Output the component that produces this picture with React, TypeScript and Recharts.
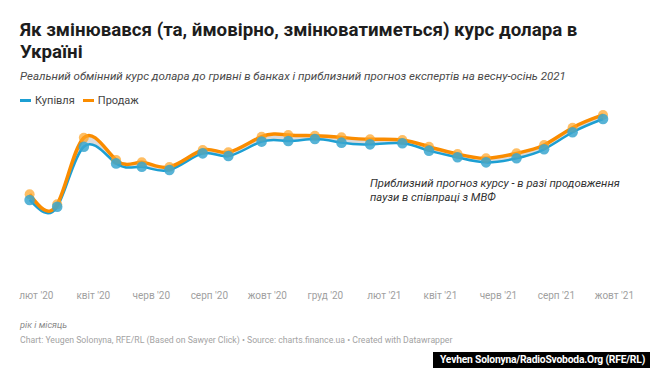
import React from 'react';
import { ComposedChart, Line, Area, XAxis, YAxis } from 'recharts';

// Observation dates (one reading per month)
const dates = [
  '2020-01-25', '2020-02-23', '2020-03-22', '2020-04-25', '2020-05-22', '2020-06-20',
  '2020-07-25', '2020-08-21', '2020-09-25', '2020-10-23', '2020-11-20', '2020-12-18',
  '2021-01-17', '2021-02-20', '2021-03-20', '2021-04-19', '2021-05-19', '2021-06-20',
  '2021-07-19', '2021-08-18', '2021-09-19',
];

// Bank buying rate, UAH per USD
const buyRates = [
  24.71, 24.31, 27.84, 26.86, 26.66, 26.47, 27.45, 27.29, 28.14, 28.18, 28.29, 28.08,
  27.98, 28.04, 27.61, 27.22, 26.92, 27.16, 27.69, 28.69, 29.47,
];

// Bank selling rate, UAH per USD
const sellRates = [
  25.04, 24.45, 28.37, 27.06, 26.92, 26.65, 27.65, 27.51, 28.43, 28.53, 28.49, 28.39,
  28.28, 28.24, 27.84, 27.41, 27.16, 27.45, 27.94, 28.96, 29.71,
];

const tickDates = [
  '2020-02-01', '2020-04-01', '2020-06-01', '2020-08-01', '2020-10-01', '2020-12-01',
  '2021-02-01', '2021-04-01', '2021-06-01', '2021-08-01', '2021-10-01',
];
const tickLabels = [
  "лют '20", "квіт '20", "черв '20", "серп '20", "жовт '20", "груд '20",
  "лют '21", "квіт '21", "черв '21", "серп '21", "жовт '21",
];

const toTime = (s: string) => Date.parse(s + 'T00:00:00Z');

const data = dates.map((d, i) => ({
  t: toTime(d),
  buy: buyRates[i],
  sell: sellRates[i],
  band: [buyRates[i], sellRates[i]],
}));

const ticks = tickDates.map(toTime);
const xDomain = [toTime('2020-01-01'), toTime('2021-11-01')];

const BLUE = '#1c9fd3';
const ORANGE = '#fa8c00';
const FONT = 'Roboto, "Noto Sans", sans-serif';

const formatTick = (v: number) => {
  const i = ticks.indexOf(v);
  return i >= 0 ? tickLabels[i] : '';
};

export default function App() {
  return (
    <div
      style={{
        position: 'absolute',
        left: 0,
        top: 0,
        width: 650,
        height: 368,
        background: '#fff',
        fontFamily: FONT,
        overflow: 'hidden',
      }}
    >
      <div
        style={{
          position: 'absolute',
          left: 20,
          top: 19,
          width: 610,
          fontSize: 18.7,
          lineHeight: '22px',
          fontWeight: 700,
          color: '#1d1d1d',
        }}
      >
        Як змінювався (та, ймовірно, змінюватиметься) курс долара в Україні
      </div>
      <div
        style={{
          position: 'absolute',
          left: 20,
          top: 69,
          fontSize: 11.5,
          fontStyle: 'italic',
          color: '#4a4a4a',
          whiteSpace: 'nowrap',
        }}
      >
        Реальний обмінний курс долара до гривні в банках і приблизний прогноз експертів на весну-осінь 2021
      </div>

      {/* legend */}
      <div
        style={{
          position: 'absolute',
          left: 20,
          top: 94,
          display: 'flex',
          alignItems: 'center',
          fontSize: 11,
          color: '#444',
          whiteSpace: 'nowrap',
        }}
      >
        <span style={{ display: 'inline-block', width: 11, height: 2.5, background: BLUE, marginRight: 4 }} />
        <span style={{ marginRight: 8 }}>Купівля</span>
        <span style={{ display: 'inline-block', width: 11, height: 3.5, background: ORANGE, marginRight: 4 }} />
        <span>Продаж</span>
      </div>

      <div style={{ position: 'absolute', left: 0, top: 0 }}>
        <ComposedChart
          width={650}
          height={310}
          data={data}
          margin={{ top: 110, right: 6.1, bottom: 0, left: 6.8 }}
        >
          <XAxis
            dataKey="t"
            type="number"
            scale="time"
            domain={xDomain}
            ticks={ticks}
            tickFormatter={formatTick}
            axisLine={false}
            tickLine={false}
            tickMargin={6}
            height={30}
            interval={0}
            tick={{ fontSize: 10, fill: '#a0a0a0', fontFamily: FONT }}
          />
          <YAxis hide domain={[20, 30]} />
          <Area
            dataKey="band"
            type="natural"
            stroke="none"
            fill="#cfcfcf"
            fillOpacity={0.75}
            isAnimationActive={false}
            activeDot={false}
          />
          <Line
            dataKey="buy"
            type="natural"
            stroke={BLUE}
            strokeWidth={2.5}
            dot={false}
            activeDot={false}
            isAnimationActive={false}
          />
          <Line
            dataKey="sell"
            type="natural"
            stroke={ORANGE}
            strokeWidth={3.5}
            dot={{ r: 5, fill: '#ffa321', fillOpacity: 0.7, stroke: 'none' }}
            activeDot={false}
            isAnimationActive={false}
          />
          <Line
            dataKey="buy"
            type="natural"
            stroke="none"
            dot={{ r: 5.3, fill: '#3aa6cf', fillOpacity: 0.85, stroke: 'none' }}
            activeDot={false}
            isAnimationActive={false}
          />
        </ComposedChart>
      </div>

      {/* forecast note */}
      <div
        style={{
          position: 'absolute',
          left: 370,
          top: 177,
          fontSize: 11.3,
          lineHeight: '14px',
          fontStyle: 'italic',
          color: '#333',
          whiteSpace: 'nowrap',
        }}
      >
        Приблизний прогноз курсу - в разі продовження
        <br />
        паузи в співпраці з МВФ
      </div>

      <div
        style={{
          position: 'absolute',
          left: 20,
          top: 319,
          fontSize: 9.2,
          fontStyle: 'italic',
          color: '#8a8a8a',
        }}
      >
        рік і місяць
      </div>
      <div
        style={{
          position: 'absolute',
          left: 20,
          top: 335,
          fontSize: 8.7,
          color: '#a3a3a3',
          whiteSpace: 'nowrap',
        }}
      >
        Chart: Yeugen Solonyna, RFE/RL (Based on Sawyer Click) • Source: charts.finance.ua • Created with Datawrapper
      </div>
      <div
        style={{
          position: 'absolute',
          left: 433,
          top: 352,
          width: 217,
          height: 16,
          background: '#000',
          color: '#fff',
          fontSize: 10.3,
          fontWeight: 700,
          lineHeight: '16px',
          paddingLeft: 7,
          boxSizing: 'border-box',
          whiteSpace: 'nowrap',
          letterSpacing: -0.2,
        }}
      >
        Yevhen Solonyna/RadioSvoboda.Org (RFE/RL)
      </div>
    </div>
  );
}
